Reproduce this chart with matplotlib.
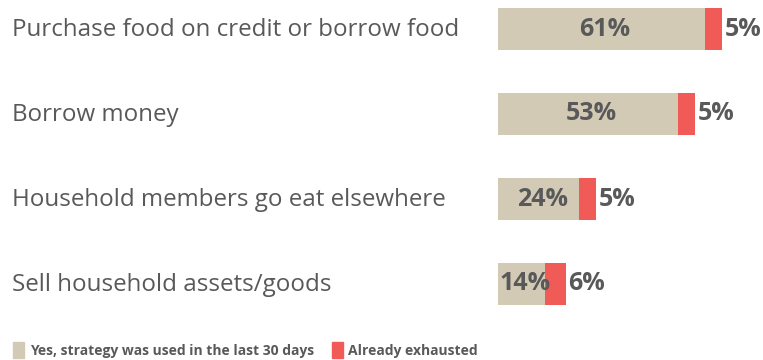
import matplotlib.pyplot as plt
from matplotlib.patches import Rectangle

# coping strategies, share of households (%)
strategies = ["Purchase food on credit or borrow food",
              "Borrow money",
              "Household members go eat elsewhere",
              "Sell household assets/goods"]
used_last_30 = [61, 53, 24, 14]
exhausted = [5, 5, 5, 6]

legend_labels = ["Yes, strategy was used in the last 30 days", "Already exhausted"]

BEIGE = "#D3CAB6"
RED = "#F05A57"
GREY = "#595959"

plt.rcParams['font.family'] = ['Open Sans', 'DejaVu Sans']

W, H = 763, 360
fig = plt.figure(figsize=(W / 100, H / 100), dpi=100)

# axes starts where the bars start; 3.39 px per percent point
px_per_pct = 3.39
ax = fig.add_axes([498 / W, 0, 1 - 498 / W, 1])
ax.set_xlim(0, (W - 498) / px_per_pct)
step = 85.0
ax.set_ylim((H - 29) / step, -29 / step)
ax.axis("off")

ypos = list(range(len(strategies)))
ax.barh(ypos, used_last_30, height=42 / step, color=BEIGE)
ax.barh(ypos, exhausted, left=used_last_30, height=42 / step, color=RED)

for y, name, u, e in zip(ypos, strategies, used_last_30, exhausted):
    ax.text(u / 2 + 1, y, f"{u}%", ha="center", va="center",
            fontsize=18, fontweight="bold", color=GREY)
    ax.text(u + e + 0.8, y, f"{e}%", ha="left", va="center",
            fontsize=18, fontweight="bold", color=GREY)
    fig.text(12 / W, 1 - (30 + y * step) / H, name, ha="left", va="center",
             fontsize=17.4, color=GREY)

# legend along the bottom edge
legend_items = [(13, 30, BEIGE, legend_labels[0]), (332, 348, RED, legend_labels[1])]
for sq_x, tx, col, lab in legend_items:
    fig.patches.append(Rectangle((sq_x / W, 1 - 358 / H), 11 / W, 16 / H,
                                 transform=fig.transFigure, color=col))
    fig.text(tx / W, 1 - 351 / H, lab, ha="left", va="center",
             fontsize=10, fontweight="bold", color=GREY)

fig.savefig("out.png", dpi=100)
